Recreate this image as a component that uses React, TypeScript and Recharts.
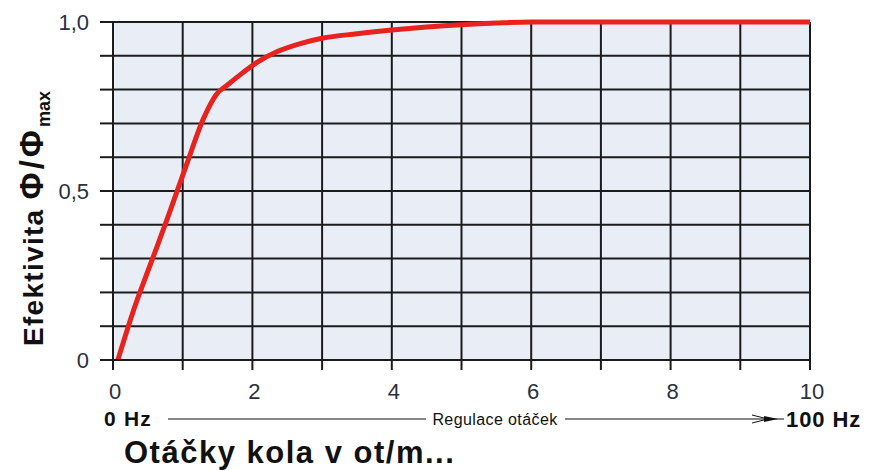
import { LineChart, Line, XAxis, YAxis, CartesianGrid } from 'recharts';

// fan speed (0-10) vs. efficiency Φ/Φmax
const speed = [0.07, 0.3, 0.55, 0.8, 1.05, 1.3, 1.48, 1.65, 1.85, 2.06, 2.35, 2.7, 3, 3.5, 4, 4.5, 5, 5.5, 6, 7, 8, 9, 10];
const efficiency = [0, 0.15, 0.29, 0.43, 0.575, 0.715, 0.785, 0.815, 0.848, 0.88, 0.912, 0.937, 0.952, 0.965, 0.976, 0.985, 0.992, 0.997, 1, 1, 1, 1, 1];

const xTicks = [0, 1, 2, 3, 4, 5, 6, 7, 8, 9, 10];
const xLabeled = [0, 2, 4, 6, 8, 10];
const yTicks = [0, 0.1, 0.2, 0.3, 0.4, 0.5, 0.6, 0.7, 0.8, 0.9, 1];
const yLabels: Record<string, string> = { '0': '0', '0.5': '0,5', '1': '1,0' };

const data = speed.map((s, i) => ({ speed: s, eff: efficiency[i] }));

const GRID = '#1b1b1b';
const TICK_TEXT = '#2a3040';
const FONT = '"Liberation Sans", Arial, sans-serif';

function XTick({ x, y, payload }: any) {
  if (!xLabeled.includes(payload.value)) return null;
  return (
    <text x={x + 2} y={y + 25} textAnchor="middle" fontSize={22} fill={TICK_TEXT} fontFamily={FONT}>
      {payload.value}
    </text>
  );
}

function YTick({ x, y, payload }: any) {
  const label = yLabels[String(Math.round(payload.value * 10) / 10)];
  if (!label) return null;
  return (
    <text x={x - 1} y={y + 8} textAnchor="end" fontSize={22} fill={TICK_TEXT} fontFamily={FONT}>
      {label}
    </text>
  );
}

export default function App() {
  return (
    <div style={{ position: 'absolute', left: 0, top: 0, width: 869, height: 470, background: '#fff', fontFamily: FONT }}>
      <LineChart width={869} height={470} data={data} margin={{ top: 22, right: 59, bottom: 70, left: 53 }}>
        <CartesianGrid fill="#e9eef6" stroke={GRID} strokeWidth={2} />
        <XAxis
          type="number"
          dataKey="speed"
          domain={[0, 10]}
          ticks={xTicks}
          interval={0}
          height={40}
          tickSize={10}
          tickMargin={4}
          axisLine={{ stroke: GRID, strokeWidth: 2 }}
          tickLine={{ stroke: GRID, strokeWidth: 2 }}
          tick={<XTick />}
        />
        <YAxis
          type="number"
          domain={[0, 1]}
          ticks={yTicks}
          interval={0}
          width={60}
          tickSize={13}
          tickMargin={10}
          axisLine={{ stroke: GRID, strokeWidth: 2 }}
          tickLine={{ stroke: GRID, strokeWidth: 2 }}
          tick={<YTick />}
        />
        <Line
          type="monotone"
          dataKey="eff"
          stroke="#e8221e"
          strokeWidth={5}
          dot={false}
          isAnimationActive={false}
        />
      </LineChart>
      <svg width={869} height={470} style={{ position: 'absolute', left: 0, top: 0, pointerEvents: 'none' }}>
        <text
          transform="translate(43,346) rotate(-90)"
          fontSize={28}
          fontWeight="bold"
          letterSpacing={1.3}
          fill="#111"
          fontFamily={FONT}
        >
          Efektivita <tspan fontSize={33} letterSpacing={3}>Φ/Φ</tspan>
          <tspan fontSize={18} dy={7} letterSpacing={0}>max</tspan>
        </text>

        <text x={104} y={426} fontSize={21} fontWeight="bold" letterSpacing={1.2} fill="#111" fontFamily={FONT}>0 Hz</text>
        <line x1={168} y1={419} x2={426} y2={419} stroke="#111" strokeWidth={1.2} />
        <text x={495} y={425} textAnchor="middle" fontSize={16} letterSpacing={0.4} fill="#111" fontFamily={FONT}>Regulace otáček</text>
        <line x1={565} y1={419} x2={784} y2={419} stroke="#111" strokeWidth={1.2} />
        <line x1={752} y1={415} x2={768} y2={419} stroke="#111" strokeWidth={1} />
        <line x1={752} y1={423} x2={768} y2={419} stroke="#111" strokeWidth={1} />
        <polygon points="764,416 778,419 764,422" fill="#111" />
        <text x={786} y={427} fontSize={22} fontWeight="bold" letterSpacing={0.9} fill="#111" fontFamily={FONT}>100 Hz</text>

        <text x={124} y={463} fontSize={31} fontWeight="bold" letterSpacing={1.5} fill="#111" fontFamily={FONT}>Otáčky kola v ot/m...</text>
      </svg>
    </div>
  );
}
